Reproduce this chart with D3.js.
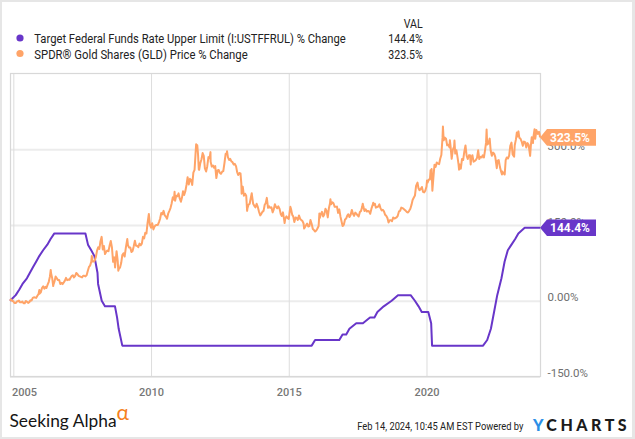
<!DOCTYPE html>
<html><head><meta charset="utf-8">
<script src="https://cdn.jsdelivr.net/npm/d3@7"></script>
<style>
body{margin:0;background:#fff;}
svg{display:block;font-family:Roboto,"Noto Sans",sans-serif;}
</style></head>
<body>
<svg id="c" width="635" height="439"></svg>
<script>
// ---------- DATA ----------
const seriesNames = ["Target Federal Funds Rate Upper Limit (I:USTFFRUL) % Change", "SPDR® Gold Shares (GLD) Price % Change"];
const seriesLastLabels = ["144.4%", "323.5%"];
const xTickYears = [2005, 2010, 2015, 2020];
const yTickValues = [-150, 0, 150, 300];
const yTickLabels = ["-150.0%", "0.00%", "150.0%", "300.0%"];

// Fed funds upper limit (%), at change dates (and holds)
const fedDates = ["2004-11-18","2005-02-02","2005-03-22","2005-05-03","2005-06-30","2005-08-09","2005-09-20","2005-11-01","2005-12-13","2006-01-31","2006-03-28","2006-05-10","2006-06-29",
"2007-08-15","2007-09-18","2007-10-31","2007-12-11","2008-01-22","2008-01-30","2008-03-18","2008-04-30","2008-09-10","2008-10-08","2008-10-29","2008-12-16",
"2015-11-01","2015-12-16","2016-11-01","2016-12-14","2017-02-01","2017-03-15","2017-06-14","2017-09-10","2017-12-13","2018-02-10","2018-03-21","2018-06-13","2018-09-26","2018-12-19",
"2019-06-05","2019-07-31","2019-09-18","2019-10-30","2020-01-25","2020-03-03","2020-03-15",
"2022-01-20","2022-03-16","2022-05-04","2022-06-15","2022-07-27","2022-09-21","2022-11-02","2022-12-14","2023-02-01","2023-03-22","2023-05-03","2023-07-26","2024-02-14"];
const fedRates = [2.25,2.50,2.75,3.00,3.25,3.50,3.75,4.00,4.25,4.50,4.75,5.00,5.25,
5.25,4.75,4.50,4.25,3.50,3.00,2.25,2.00,2.00,1.50,1.00,0.25,
0.25,0.50,0.50,0.75,0.75,1.00,1.25,1.25,1.50,1.50,1.75,2.00,2.25,2.50,
2.50,2.25,2.00,1.75,1.75,1.25,0.25,
0.25,0.50,1.00,1.75,2.50,3.25,4.00,4.50,4.75,5.00,5.25,5.50,5.50];

// GLD price % change since Nov 18, 2004
const gldPoints = [
["2004-11-18",0],["2004-12-01",2.7],["2004-12-16",0],
["2005-01-01",-0.9],["2005-01-16",-4.5],["2005-02-01",-4.5],["2005-02-16",-1.6],["2005-03-01",-1.1],["2005-03-16",0.3],["2005-04-01",-3.1],["2005-04-16",-3.1],["2005-05-01",-1.6],["2005-05-16",-5],["2005-06-01",-5],["2005-06-16",-0.4],["2005-07-01",-2],["2005-07-16",-4.3],["2005-08-01",-2.7],["2005-08-16",0.9],["2005-09-01",0.7],["2005-09-16",5.7],["2005-10-01",6.8],["2005-10-16",6.4],["2005-11-01",5.7],["2005-11-16",9.8],["2005-12-01",13.2],["2005-12-12",21.3],["2005-12-16",14.1],
["2006-01-01",16.6],["2006-01-16",25.2],["2006-02-01",28.5],["2006-02-16",24],["2006-03-01",27.4],["2006-03-16",25.2],["2006-04-01",31.9],["2006-04-16",37.6],["2006-05-01",47.7],["2006-05-12",61],["2006-05-16",55],["2006-06-01",44.3],["2006-06-14",29],["2006-06-16",31.5],["2006-07-01",38.2],["2006-07-16",48],["2006-08-01",44.3],["2006-08-16",40.9],["2006-09-01",40.9],["2006-09-16",33],["2006-10-01",35.3],["2006-10-16",33],["2006-11-01",36.4],["2006-11-16",39.8],["2006-12-01",45.4],["2006-12-16",40.9],
["2007-01-01",42],["2007-01-16",41.6],["2007-02-01",46.1],["2007-02-16",49.4],["2007-03-01",50.5],["2007-03-16",46.1],["2007-04-01",49.4],["2007-04-16",55],["2007-05-01",52.8],["2007-05-16",49.4],["2007-06-01",48.3],["2007-06-16",47.2],["2007-07-01",46.1],["2007-07-16",49.4],["2007-08-01",49.4],["2007-08-16",48.3],["2007-09-01",51],["2007-09-16",59.5],["2007-10-01",67],["2007-10-16",69.6],["2007-11-01",77.5],["2007-11-08",88.7],["2007-11-16",77.5],["2007-12-01",77.5],["2007-12-16",79.8],
["2008-01-01",86.8],["2008-01-16",99.4],["2008-02-01",106.1],["2008-02-16",102.7],["2008-03-01",117.3],["2008-03-17",126.5],["2008-04-01",101.6],["2008-04-16",108.3],["2008-05-01",92.6],["2008-05-16",97.1],["2008-06-01",99.4],["2008-06-16",98.2],["2008-07-01",109.4],["2008-07-16",118.4],["2008-08-01",105],["2008-08-16",77],["2008-09-01",85.9],["2008-09-11",65.8],["2008-09-16",74.7],["2008-10-01",98.2],["2008-10-16",79.2],["2008-10-24",59.5],["2008-11-01",63.5],["2008-11-16",65.8],["2008-12-01",74.7],["2008-12-16",90.4],
["2009-01-01",94.2],["2009-01-16",87.5],["2009-02-01",105.3],["2009-02-20",122.1],["2009-03-01",109.8],["2009-03-16",105.3],["2009-04-01",105.3],["2009-04-16",96.4],["2009-05-01",98.6],["2009-05-16",107.6],["2009-06-01",118.7],["2009-06-16",108.7],["2009-07-01",108.7],["2009-07-16",106],["2009-08-01",113.2],["2009-08-16",109.8],["2009-09-01",113.2],["2009-09-16",126.5],["2009-10-01",123.2],["2009-10-16",134.4],["2009-11-01",133.2],["2009-11-16",154.4],["2009-12-03",171.9],["2009-12-16",151.1],
["2010-01-01",144.6],["2010-01-16",153.5],["2010-02-01",141.3],["2010-02-16",146.9],["2010-03-01",149.1],["2010-03-16",150.2],["2010-04-01",150.2],["2010-04-16",155.8],["2010-05-01",162.4],["2010-05-16",173.6],["2010-06-01",171.3],["2010-06-16",178],["2010-07-01",169.1],["2010-07-16",166.9],["2010-08-01",162.4],["2010-08-16",172.4],["2010-09-01",178],["2010-09-16",183.6],["2010-10-01",192.5],["2010-10-16",204.7],["2010-11-01",200.2],["2010-11-09",215.8],["2010-11-16",198],["2010-12-01",208],["2010-12-16",206.9],
["2011-01-01",212.6],["2011-01-16",202.6],["2011-02-01",196],["2011-02-16",204.8],["2011-03-01",217],["2011-03-16",209.3],["2011-04-01",217],["2011-04-16",229.2],["2011-05-01",244.7],["2011-05-16",230.3],["2011-06-01",241.4],["2011-06-16",239.2],["2011-07-01",229.2],["2011-07-16",253.6],["2011-08-01",259.2],["2011-08-16",295.7],["2011-08-22",310],["2011-09-01",300],["2011-09-06",308],["2011-09-16",290],["2011-09-26",260],["2011-10-01",259.2],["2011-10-16",272.5],["2011-11-01",280.2],["2011-11-16",292.4],["2011-12-01",286.9],["2011-12-16",262],
["2012-01-01",256],["2012-01-16",266],["2012-02-01",284.4],["2012-02-16",282.2],["2012-02-28",294.3],["2012-03-01",275.5],["2012-03-16",265.6],["2012-04-01",267.8],["2012-04-16",263.4],["2012-05-01",266.7],["2012-05-16",243],["2012-06-01",257.9],["2012-06-16",259],["2012-07-01",253.4],["2012-07-16",251.2],["2012-08-01",255.6],["2012-08-16",256.8],["2012-09-01",273.3],["2012-09-16",291],["2012-10-01",292.1],["2012-10-05",296],["2012-10-16",284.4],["2012-11-01",278.8],["2012-11-16",281],["2012-12-01",276],["2012-12-16",274.4],
["2013-01-01",269.8],["2013-01-16",271],["2013-02-01",266.5],["2013-02-16",254.4],["2013-03-01",249],["2013-03-16",253],["2013-04-01",252.2],["2013-04-12",232],["2013-04-16",212],["2013-05-01",226],["2013-05-16",208],["2013-06-01",212],["2013-06-16",208],["2013-06-28",178],["2013-07-01",182],["2013-07-16",190],["2013-08-01",192],["2013-08-16",204],["2013-08-28",213],["2013-09-01",208],["2013-09-16",192],["2013-10-01",188],["2013-10-16",185],["2013-11-01",192],["2013-11-16",186],["2013-12-01",177],["2013-12-19",169],
["2014-01-01",172],["2014-01-16",176],["2014-02-01",178],["2014-02-16",190],["2014-03-01",193],["2014-03-16",203.7],["2014-04-01",184],["2014-04-16",187],["2014-05-01",184],["2014-05-16",185],["2014-06-01",175],["2014-06-16",181],["2014-07-01",191],["2014-07-16",186],["2014-08-01",183],["2014-08-16",187],["2014-09-01",182],["2014-09-16",172],["2014-10-01",168],["2014-10-16",175],["2014-11-01",160],["2014-11-07",154],["2014-11-16",163],["2014-12-01",167],["2014-12-16",164],
["2015-01-01",162],["2015-01-22",186],["2015-02-01",181],["2015-02-16",170],["2015-03-01",167],["2015-03-16",156],["2015-04-01",165],["2015-04-16",164],["2015-05-01",160],["2015-05-16",169],["2015-06-01",162],["2015-06-16",160],["2015-07-01",158],["2015-07-16",153],["2015-07-24",143],["2015-08-01",145],["2015-08-16",149],["2015-09-01",153],["2015-09-16",147],["2015-10-01",148],["2015-10-16",160],["2015-11-01",152],["2015-11-16",142],["2015-12-01",140],["2015-12-17",137],
["2016-01-01",139],["2016-01-16",143],["2016-02-01",148],["2016-02-11",173],["2016-02-16",164],["2016-03-01",171],["2016-03-16",176],["2016-04-01",167],["2016-04-16",171],["2016-05-01",182],["2016-05-16",178],["2016-06-01",165],["2016-06-16",183],["2016-07-01",193],["2016-07-06",201],["2016-07-16",191],["2016-08-01",195],["2016-08-16",193],["2016-09-01",186],["2016-09-16",186],["2016-10-01",186.4],["2016-10-16",174],["2016-11-01",181],["2016-11-16",167],["2016-12-01",157],["2016-12-15",148],
["2017-01-01",151],["2017-01-16",161],["2017-02-01",163],["2017-02-16",169.1],["2017-03-01",171.3],["2017-03-16",165.8],["2017-04-01",170.2],["2017-04-16",179.9],["2017-05-01",172.3],["2017-05-16",168],["2017-06-01",174.5],["2017-06-16",172.3],["2017-07-01",169.1],["2017-07-16",166.9],["2017-08-01",175.6],["2017-08-16",177.8],["2017-09-01",186.4],["2017-09-08",192],["2017-09-16",186.4],["2017-10-01",177.8],["2017-10-16",181],["2017-11-01",176.7],["2017-11-16",177.8],["2017-12-01",176.7],["2017-12-16",172.3],
["2018-01-01",182.3],["2018-01-16",188.8],["2018-01-25",194.2],["2018-02-01",189.8],["2018-02-16",192],["2018-03-01",184.4],["2018-03-16",185.5],["2018-04-01",186.6],["2018-04-16",190.9],["2018-05-01",183.4],["2018-05-16",179],["2018-06-01",180.1],["2018-06-16",176.9],["2018-07-01",170.4],["2018-07-16",168.2],["2018-08-01",163.9],["2018-08-16",155],["2018-09-01",159.6],["2018-09-16",159.6],["2018-10-01",157.4],["2018-10-16",165],["2018-11-01",162.8],["2018-11-16",163.9],["2018-12-01",165],["2018-12-16",168.2],
["2019-01-01",176.9],["2019-01-16",178],["2019-02-01",184.5],["2019-02-16",183.4],["2019-03-01",182.3],["2019-03-16",180.2],["2019-04-01",178],["2019-04-16",175.8],["2019-05-01",174.8],["2019-05-16",178],["2019-06-01",182.3],["2019-06-16",189.8],["2019-07-01",199.5],["2019-07-16",203.9],["2019-08-01",208.2],["2019-08-16",227.6],["2019-09-04",234],["2019-09-16",223.3],["2019-10-01",218.9],["2019-10-16",221.1],["2019-11-01",225.4],["2019-11-16",215.7],["2019-12-01",214.6],["2019-12-16",217.9],
["2020-01-01",226.3],["2020-01-08",238.2],["2020-01-16",233.9],["2020-02-01",240.3],["2020-02-16",240.3],["2020-02-24",258.5],["2020-03-01",243.5],["2020-03-09",260.7],["2020-03-19",218],["2020-04-01",242.5],["2020-04-16",269.3],["2020-05-01",265],["2020-05-16",273.6],["2020-06-01",271.4],["2020-06-16",270.4],["2020-07-01",281.1],["2020-07-16",288.6],["2020-08-01",324],["2020-08-06",345],["2020-08-16",317.6],["2020-09-01",323],["2020-09-16",320.8],["2020-10-01",307.9],["2020-10-16",309],["2020-11-01",303.6],["2020-11-06",318],["2020-11-16",304.7],["2020-11-30",281.1],["2020-12-16",299.3],
["2021-01-01",305.3],["2021-01-06",317.1],["2021-01-16",291.4],["2021-02-01",297.9],["2021-02-16",284],["2021-03-01",270],["2021-03-08",259.4],["2021-03-16",270],["2021-03-31",261.5],["2021-04-16",280.7],["2021-05-01",278.6],["2021-05-16",294.6],["2021-06-01",307.5],["2021-06-16",287.2],["2021-07-01",280.7],["2021-07-16",288.2],["2021-08-01",288.2],["2021-08-09",270],["2021-08-16",281.8],["2021-09-01",288.2],["2021-09-16",275.4],["2021-10-01",276.5],["2021-10-16",278.6],["2021-11-01",282.9],["2021-11-16",297.9],["2021-12-01",280.7],["2021-12-16",285],
["2022-01-01",283.8],["2022-01-16",288],["2022-02-01",283.8],["2022-02-16",298.7],["2022-03-01",313.6],["2022-03-08",339],["2022-03-16",309.3],["2022-04-01",311.5],["2022-04-18",321.1],["2022-05-01",297.6],["2022-05-16",287],["2022-06-01",293.4],["2022-06-16",291.2],["2022-07-01",284.8],["2022-07-21",262.4],["2022-08-01",277.4],["2022-08-16",278.4],["2022-09-01",264.6],["2022-09-16",256],["2022-09-28",250],["2022-10-01",256],["2022-10-16",253],["2022-11-03",250],["2022-11-16",278.4],["2022-12-01",283.8],["2022-12-16",281.6],
["2023-01-01",287.6],["2023-01-16",306.7],["2023-02-01",313.1],["2023-02-16",289.8],["2023-03-08",285.5],["2023-03-16",307.8],["2023-04-01",319.5],["2023-04-13",333.3],["2023-04-16",324.8],["2023-05-04",335.4],["2023-05-16",322.7],["2023-06-01",320.6],["2023-06-16",315.2],["2023-07-01",306.7],["2023-07-16",315.2],["2023-08-01",314.2],["2023-08-16",303.6],["2023-09-01",312.1],["2023-09-16",308.9],["2023-10-06",287],["2023-10-16",307.8],["2023-10-27",323.7],["2023-11-13",312.1],["2023-11-16",321.6],["2023-12-04",339.7],["2023-12-13",320.6],["2023-12-28",338],
["2024-01-16",330.4],["2024-02-01",334.6],["2024-02-09",329.3],["2024-02-14",323.5]
];

// ---------- CHART ----------
const parse = d3.timeParse("%Y-%m-%d");
const purple = "#6836c9", orange = "#ffa468";
const svg = d3.select("#c");

// condensed text helper: scales text horizontally to a given width
function condensed(parent, str, px, py, width, anchor, size, fill){
  const t = parent.append("text").attr("font-family","Roboto").attr("font-size",size).attr("fill",fill)
    .attr("text-anchor",anchor).text(str);
  const w = t.node().getComputedTextLength();
  t.attr("transform",`translate(${px},${py}) scale(${width/w},1)`);
  return t;
}

// frame
svg.append("rect").attr("width",635).attr("height",439).attr("fill","#e6e6e6");
svg.append("rect").attr("x",2).attr("y",2).attr("width",630).attr("height",435).attr("fill","#fff");

const L = 10, R = 540, T = 73.5, B = 376.5;
const x = d3.scaleTime().domain([parse("2004-11-18"), parse("2024-02-14")]).range([L, R]);
const y = d3.scaleLinear().domain([-150, 450]).range([B, T]);

// horizontal gridlines
const gy = svg.append("g").attr("transform",`translate(${L},0)`)
  .call(d3.axisRight(y).tickValues(yTickValues).tickSize(R-L).tickFormat(""));
gy.select(".domain").remove();
gy.selectAll("line").attr("stroke","#ececec").attr("stroke-width",2);

// vertical gridlines
const xTickDates = xTickYears.map(v => new Date(v,0,1));
const gx = svg.append("g").attr("transform",`translate(0,${B})`)
  .call(d3.axisBottom(x).tickValues(xTickDates).tickSize(-(B-T)).tickFormat(""));
gx.select(".domain").remove();
gx.selectAll("line").attr("stroke","#dddddd").attr("stroke-width",1);

// plot border
svg.append("rect").attr("x",L+0.5).attr("y",T).attr("width",R-L).attr("height",B-T)
  .attr("fill","none").attr("stroke","#d8d8d8").attr("stroke-width",1.2);

// x labels
const xl = svg.append("g").attr("transform",`translate(0,${B})`)
  .call(d3.axisBottom(x).tickValues(xTickDates).tickSize(0).tickPadding(11.5).tickFormat(d3.timeFormat("%Y")));
xl.select(".domain").remove();
xl.selectAll("text").attr("font-family","Roboto").attr("font-size",11).attr("fill","#777")
  .attr("font-weight",500);
xl.selectAll("text").filter((d,i)=>i===0).attr("text-anchor","start").attr("x", L+1.5 - x(xTickDates[0]));

// y labels (partly hidden under the end flags, as in the original)
const yl = svg.append("g").attr("transform",`translate(547.5,0)`)
  .call(d3.axisRight(y).tickValues(yTickValues).tickSize(0).tickPadding(0)
  .tickFormat((d,i)=>yTickLabels[yTickValues.indexOf(d)]));
yl.select(".domain").remove();
yl.selectAll("text").attr("dy","0").attr("font-family","Roboto").attr("font-size",11.5).attr("fill","#6f6f6f");

// lines
const base = fedRates[0];
const fedData = fedDates.map((d,i)=>({date:parse(d), v:(fedRates[i]/base-1)*100}));
const gldData = gldPoints.map(p=>({date:parse(p[0]), v:p[1]}));
const line = d3.line().x(d=>x(d.date)).y(d=>y(d.v));
svg.append("path").datum(fedData).attr("d",line).attr("fill","none").attr("stroke",purple).attr("stroke-width",2).attr("stroke-linejoin","round");
svg.append("path").datum(gldData).attr("d",line).attr("fill","none").attr("stroke",orange).attr("stroke-width",2).attr("stroke-linejoin","round");

// end flags
function flag(val, label, color){
  const yc = y(val);
  const g = svg.append("g");
  g.append("path").attr("d",`M${R},${yc} L${R+7},${yc-8.3} L596,${yc-8.3} L596,${yc+8.3} L${R+7},${yc+8.3} Z`).attr("fill",color);
  g.append("text").attr("x",550).attr("y",yc+4.3).attr("fill","#fff").attr("font-family","Roboto")
   .attr("font-weight",700).attr("font-size",12).text(label);
}
flag(fedData[fedData.length-1].v, seriesLastLabels[0], purple);
flag(gldData[gldData.length-1].v, seriesLastLabels[1], orange);

// legend
const leg = svg.append("g");
condensed(leg, "VAL", 422.7, 27.5, 19, "end", 13, "#222");
const legW = [312, 213.5];
[purple, orange].forEach((c,i)=>{
  const yb = i===0 ? 43 : 58.5;
  leg.append("circle").attr("cx",20).attr("cy",yb-5).attr("r",3.6).attr("fill",c);
  condensed(leg, seriesNames[i], 34.3, yb, legW[i], "start", 13, "#222");
  condensed(leg, seriesLastLabels[i], 422.7, yb, 34.4, "end", 13, "#222");
});

// footer
svg.append("text").attr("x",9.5).attr("y",426.7).attr("font-family","Lato").attr("font-size",17).attr("fill","#151515")
  .attr("textLength",107).attr("lengthAdjust","spacingAndGlyphs").text("Seeking Alpha");
svg.append("text").attr("x",116.5).attr("y",419.5).attr("font-family","Lato").attr("font-size",21).attr("fill","#f57f20").text("α");
condensed(svg, "Feb 14, 2024, 10:45 AM EST Powered by", 357.2, 429.6, 166.5, "start", 11, "#222");
const yc = svg.append("text").attr("x",533).attr("y",431).attr("font-family","Lato").attr("font-weight",900).attr("font-size",16)
  .attr("textLength",93.7).attr("lengthAdjust","spacing");
yc.append("tspan").attr("fill","#2b8fe6").text("Y");
yc.append("tspan").attr("fill","#1b1b1b").text("CHARTS");
</script>
</body></html>
